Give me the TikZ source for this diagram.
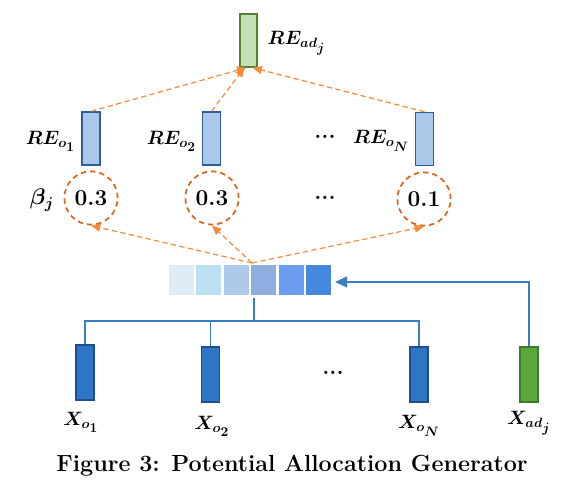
\documentclass[tikz,border=0pt]{standalone}
\usepackage{fix-cm}
\usepackage{bm}
\usetikzlibrary{arrows.meta}
\definecolor{gfill}{HTML}{C5E0B4}
\definecolor{gdraw}{HTML}{548235}
\definecolor{lbfill}{HTML}{A9C8EA}
\definecolor{lbdraw}{HTML}{2E5E9A}
\definecolor{dbfill}{HTML}{2E75C6}
\definecolor{dbdraw}{HTML}{1F4E8A}
\definecolor{xgfill}{HTML}{5AA83A}
\definecolor{xgdraw}{HTML}{3F7A2A}
\definecolor{orarrow}{HTML}{F58A3A}
\definecolor{orcirc}{HTML}{D9661E}
\definecolor{bline}{HTML}{3A7CC6}
\definecolor{cA}{HTML}{DDEBF6}
\definecolor{cB}{HTML}{BDE0F2}
\definecolor{cC}{HTML}{ADC8E8}
\definecolor{cD}{HTML}{8DAEDF}
\definecolor{cE}{HTML}{6A9CF0}
\definecolor{cF}{HTML}{4589DE}
\newcommand\lab[3]{$\bm{#1}_{\bm{#2}_{\scriptstyle\bm{#3}}}$}
\tikzset{
  rebox/.style={draw=lbdraw, fill=lbfill, line width=1.1pt, minimum width=13.5pt, minimum height=39.75pt, inner sep=0pt},
  adbox/.style={draw=gdraw, fill=gfill, line width=1.1pt, minimum width=12.75pt, minimum height=39.75pt, inner sep=0pt},
  xbox/.style={draw=dbdraw, fill=dbfill, line width=1.1pt, minimum width=13.5pt, minimum height=41.25pt, inner sep=0pt},
  xgbox/.style={draw=xgdraw, fill=xgfill, line width=1.1pt, minimum width=13.5pt, minimum height=41.25pt, inner sep=0pt},
  wcirc/.style={circle, draw=orcirc, dashed, dash pattern=on 4pt off 3pt, line width=1.3pt, minimum size=40pt, inner sep=0pt, font=\fontsize{17}{19}\selectfont\bfseries},
  cell/.style={minimum width=19.5pt, minimum height=23.25pt, inner sep=0pt, draw=white, line width=0.6pt},
  oarrow/.style={draw=orarrow, dashed, dash pattern=on 4pt off 2.5pt, line width=0.9pt, -{Triangle[length=7pt,width=6pt]}},
  bluel/.style={draw=bline, line width=1.3pt},
  lbl/.style={font=\fontsize{14.5}{17}\selectfont, inner sep=1pt},
  dots/.style={font=\fontsize{17}{19}\selectfont\bfseries, inner sep=0pt}
}
\begin{document}
\begin{tikzpicture}[x=0.75pt,y=-0.75pt]
\useasboundingbox (0,0) rectangle (584,492);
% top
\node[adbox] (REad) at (248.5,40.5) {};
\node[lbl, anchor=west] (lREad) at (266,43) {\lab{RE}{ad}{j}};
% RE boxes
\node[rebox] (REo1) at (91,138.5) {};
\node[rebox] (REo2) at (211.5,138.5) {};
\node[rebox] (REoN) at (424.5,139) {};
\node[lbl, anchor=east] (lREo1) at (77,141) {\lab{RE}{o}{1}};
\node[lbl, anchor=east] (lREo2) at (198,141) {\lab{RE}{o}{2}};
\node[lbl, anchor=east] (lREoN) at (411,141) {\lab{RE}{o}{N}};
\node[dots] (d1) at (325,137) {...};
% circles
\node[wcirc] (c1) at (91,198) {0.3};
\node[wcirc] (c2) at (212,198) {0.3};
\node[wcirc] (c3) at (424,199) {0.1};
\node[lbl, font=\fontsize{17}{19}\selectfont] (beta) at (42,200) {$\bm{\beta_j}$};
\node[dots] (d2) at (325,198) {...};
% vector
\node[cell, fill=cA] (v1) at (181,279.5) {};
\node[cell, fill=cB] (v2) at (208.5,279.5) {};
\node[cell, fill=cC] (v3) at (236,279.5) {};
\node[cell, fill=cD] (v4) at (263.5,279.5) {};
\node[cell, fill=cE] (v5) at (291,279.5) {};
\node[cell, fill=cF] (v6) at (318.5,279.5) {};
\coordinate (src) at (252,263);
% orange arrows
\draw[oarrow] (src) -- (c1.south);
\draw[oarrow] (src) -- (c2.south);
\draw[oarrow] (src) -- (c3.south);
\draw[oarrow] (REo1.north) -- ([xshift=-1.5pt]REad.south);
\draw[oarrow] (REo2.north) -- ([xshift=-3pt]REad.south);
\draw[oarrow] (REoN.north) -- ([xshift=3pt]REad.south);
% bottom inputs
\node[xbox] (Xo1) at (85,372.5) {};
\node[xbox] (Xo2) at (210.5,374.5) {};
\node[xbox] (XoN) at (419,374.5) {};
\node[xgbox] (Xad) at (529,374.5) {};
\node[lbl] (lXo1) at (81,422) {\lab{X}{o}{1}};
\node[lbl] (lXo2) at (212,426) {\lab{X}{o}{2}};
\node[lbl] (lXoN) at (419,426) {\lab{X}{o}{N}};
\node[lbl] (lXad) at (529,423) {\lab{X}{ad}{j}};
\node[dots] (d3) at (333,373) {...};
% blue connectors
\coordinate (vb) at (254,298);
\coordinate (bus) at (254,321);
\coordinate (vin) at (335,282);
\draw[bluel] (vb) -- (bus);
\draw[bluel] (Xo1.north) |- (bus) -| (XoN.north);
\draw[bluel] (Xo2.north) -- (Xo2.north |- bus);
\draw[bluel, -{Triangle[length=9pt,width=8pt]}] (Xad.north) |- (vin);
% caption
\node[font=\fontsize{17.5}{20}\selectfont\bfseries] (cap) at (292,466) {Figure 3: Potential Allocation Generator};
\end{tikzpicture}
\end{document}
